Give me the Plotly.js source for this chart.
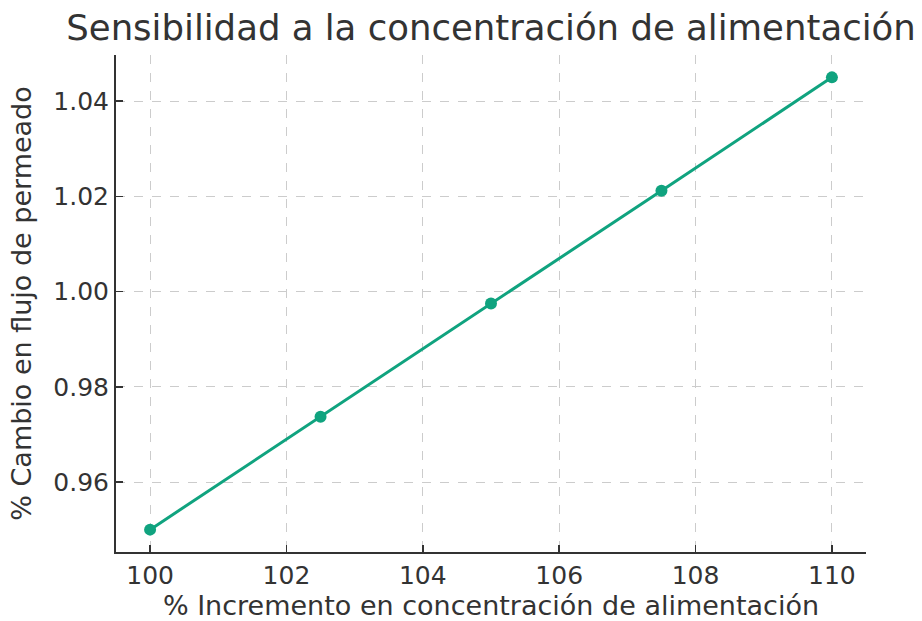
<!DOCTYPE html>
<html>
<head>
<meta charset="utf-8">
<script src="https://cdn.plot.ly/plotly-3.0.1.min.js"></script>
<style>html,body{margin:0;padding:0;background:#fff;}#chart{width:922px;height:621px;}</style>
</head>
<body>
<div id="chart"></div>
<script>
const incrementos = [100, 102.5, 105, 107.5, 110];
const cambioFlujo = [0.950, 0.9737, 0.9975, 1.0212, 1.0450];
const xTicks = [100, 102, 104, 106, 108, 110];
const yTicks = [0.96, 0.98, 1.00, 1.02, 1.04];
const yTickLabels = ["0.96", "0.98", "1.00", "1.02", "1.04"];

const textColor = '#333333';
const trace = {
  x: incrementos, y: cambioFlujo, mode: 'lines+markers', type: 'scatter',
  line: {color: '#10a37f', width: 3},
  marker: {color: '#10a37f', size: 12},
  cliponaxis: false, showlegend: false
};
const layout = {
  width: 922, height: 621,
  paper_bgcolor: '#ffffff', plot_bgcolor: '#ffffff',
  margin: {l: 116, r: 56, t: 55, b: 69},
  font: {family: 'DejaVu Sans, sans-serif', color: textColor},
  title: {text: 'Sensibilidad a la concentración de alimentación', font: {size: 35.5, color: textColor},
          x: 0.5, xref: 'paper', xanchor: 'center', y: 1, yref: 'container', yanchor: 'top', pad: {t: 15}},
  xaxis: {
    range: [99.5, 110.5], tickvals: xTicks, ticktext: xTicks.map(String),
    showline: true, linecolor: textColor, linewidth: 2, mirror: false,
    ticks: 'inside', ticklen: 7, tickwidth: 1.5, tickcolor: textColor,
    tickfont: {size: 25, color: textColor},
    showgrid: true, gridcolor: '#cccccc', griddash: 'dash', gridwidth: 1, zeroline: false,
    title: {text: '% Incremento en concentración de alimentación', font: {size: 27, color: textColor}, standoff: 6}
  },
  yaxis: {
    range: [0.9453, 1.0497], tickvals: yTicks, ticktext: yTickLabels,
    showline: true, linecolor: textColor, linewidth: 2, mirror: false,
    ticks: 'inside', ticklen: 7, tickwidth: 1.5, tickcolor: textColor,
    tickfont: {size: 25, color: textColor},
    showgrid: true, gridcolor: '#cccccc', griddash: 'dash', gridwidth: 1, zeroline: false,
    title: {text: '% Cambio en flujo de permeado', font: {size: 27, color: textColor}, standoff: 14}
  }
};
Plotly.newPlot('chart', [trace], layout, {displayModeBar: false, staticPlot: true});
</script>
</body>
</html>
